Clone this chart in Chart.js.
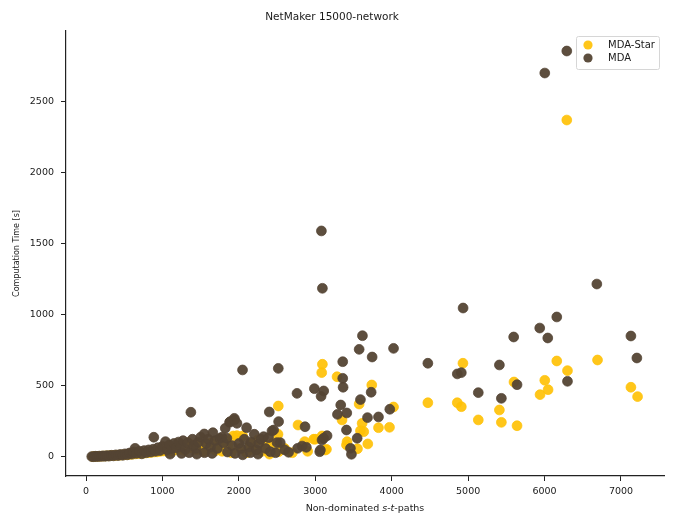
<!DOCTYPE html>
<html>
<head>
<meta charset="utf-8">
<script src="https://cdn.jsdelivr.net/npm/chart.js@4.4.1/dist/chart.umd.min.js"></script>
<style>
  body { margin: 0; background: #fff; }
  #wrap { width: 676px; height: 529px; }
</style>
</head>
<body>
<div id="wrap"><canvas id="chart"></canvas></div>
<script>
// Non-dominated s-t-paths vs. computation time [s]
const starPaths = [90,130,170,210,250,290,330,370,410,450,490,530,570,610,650,690,730,770,810,850,890,930,970,1010,1050,1090,1130,1170,1210,1250,1290,1340,1370,1410,1450,1500,1540,1580,1620,1660,1700,1740,1780,1820,1860,1900,1927,1975,2000,2050,2100,2150,2200,2250,2300,2350,2400,2450,2512,2516,2520,2600,2700,2774,2861,2900,2979,3001,3088,3093,3084,3132,3146,3285,3350,3408,3416,3552,3574,3591,3613,3634,3687,3739,3827,3971,4024,4473,4858,4911,4932,5133,5409,5435,5600,5640,5941,6003,6046,6160,6291,6300,6693,7130,7217];
const starTimes = [2,4,5,6,7,8,10,10,12,13,15,16,18,20,22,24,25,28,30,32,35,36,40,42,45,48,40,55,50,60,45,100,65,75,50,85,40,95,60,105,45,75,40,115,85,30,148,150,60,148,30,95,50,120,40,85,20,100,160,359,37,60,30,225,108,40,125,125,148,653,594,49,54,565,261,85,108,58,373,185,237,178,92,507,206,209,352,382,382,354,660,261,331,244,528,220,439,540,474,676,2373,608,683,491,425];

const mdaPaths = [75,100,125,150,175,200,225,250,275,300,330,360,390,420,450,480,510,540,570,600,620,642,660,700,730,760,790,820,850,880,887,910,940,970,1000,1040,1060,1090,1100,1120,1150,1180,1210,1240,1250,1270,1300,1330,1350,1372,1393,1410,1440,1450,1470,1500,1547,1550,1570,1600,1630,1650,1660,1690,1720,1750,1778,1800,1822,1843,1850,1878,1887,1910,1940,1944,1950,1975,2000,2030,2048,2050,2070,2101,2130,2150,2160,2202,2230,2250,2260,2290,2324,2350,2389,2398,2411,2433,2455,2480,2499,2516,2520,2542,2600,2651,2761,2769,2827,2866,2883,2988,3058,3067,3076,3080,3088,3093,3110,3110,3154,3290,3333,3359,3359,3364,3408,3412,3460,3473,3548,3574,3591,3617,3683,3731,3744,3827,3975,4024,4473,4858,4911,4934,5133,5409,5435,5596,5640,5937,6003,6042,6160,6291,6300,6684,7130,7208];
const mdaTimes = [3,2,5,3,6,4,8,5,10,6,12,8,15,10,18,12,22,15,28,20,35,61,25,40,22,45,30,50,35,55,139,40,65,45,75,108,50,85,20,60,95,65,105,75,25,115,55,100,30,315,125,80,60,20,105,140,162,30,95,125,70,25,171,115,60,130,139,100,202,132,35,244,249,80,272,261,25,237,95,60,613,15,125,206,70,30,105,160,50,20,95,125,143,60,136,317,37,183,190,30,101,624,249,101,50,33,448,61,77,213,68,481,37,49,427,1592,120,1188,465,132,150,300,366,671,554,491,190,310,61,19,132,758,404,854,277,456,704,282,336,765,660,585,594,1049,453,648,413,845,509,908,2704,838,986,2859,533,1218,852,697];

const seriesNames = ['MDA-Star', 'MDA'];
const seriesColors = ['rgba(255, 193, 7, 0.92)', 'rgba(84, 68, 52, 0.95)'];
const xTicks = [0, 1000, 2000, 3000, 4000, 5000, 6000, 7000];
const yTicks = [0, 500, 1000, 1500, 2000, 2500];

const toPoints = (xs, ys) => xs.map((x, i) => ({ x: x, y: ys[i] }));

// small canvases so the legend dot sits left of a wider gap before the text
function legendDot(color) {
  const c = document.createElement('canvas');
  c.width = 20; c.height = 10;
  const g = c.getContext('2d');
  g.fillStyle = color;
  g.beginPath();
  g.arc(5, 5, 4.6, 0, Math.PI * 2);
  g.fill();
  return c;
}
const legendDots = seriesColors.map(legendDot);

// move the legend to the top right corner of the plot and give it a frame
const legendFrame = {
  id: 'legendFrame',
  afterLayout(chart) {
    const lg = chart.legend;
    const w = lg.width, h = lg.height;
    lg.left = chart.chartArea.right - 84;
    lg.top = chart.chartArea.top + 6;
    lg.right = lg.left + w;
    lg.bottom = lg.top + h;
  },
  beforeDraw(chart) {
    const lg = chart.legend;
    const ctx = chart.ctx;
    const x = lg.left - 4, y = lg.top - 1;
    const w = chart.chartArea.right - 5 - x, h = 33;
    ctx.save();
    ctx.fillStyle = 'rgba(255,255,255,0.8)';
    ctx.strokeStyle = '#d6d6d6';
    ctx.lineWidth = 1;
    ctx.beginPath();
    ctx.roundRect(x + 0.5, y + 0.5, w, h, 2);
    ctx.fill();
    ctx.stroke();
    ctx.restore();
  }
};

// x axis title with italic s and t
const xTitleParts = [['Non-dominated ', 'normal'], ['s', 'italic'], ['-', 'normal'], ['t', 'italic'], ['-paths', 'normal']];
const xTitle = {
  id: 'xTitle',
  afterDraw(chart) {
    const ctx = chart.ctx;
    const fam = '"DejaVu Sans", sans-serif';
    ctx.save();
    ctx.fillStyle = '#1a1a1a';
    ctx.textBaseline = 'middle';
    let total = 0;
    xTitleParts.forEach(([t, s]) => { ctx.font = s + ' 9.5px ' + fam; total += ctx.measureText(t).width; });
    let x = (chart.chartArea.left + chart.chartArea.right) / 2 - total / 2;
    const y = chart.chartArea.bottom + 33;
    xTitleParts.forEach(([t, s]) => {
      ctx.font = s + ' 9.5px ' + fam;
      ctx.fillText(t, x, y);
      x += ctx.measureText(t).width;
    });
    ctx.restore();
  }
};

Chart.defaults.font.family = '"DejaVu Sans", sans-serif';
Chart.defaults.color = '#1a1a1a';

new Chart(document.getElementById('chart'), {
  type: 'scatter',
  data: {
    datasets: [
      {
        label: seriesNames[0],
        data: toPoints(starPaths, starTimes),
        backgroundColor: seriesColors[0],
        borderColor: seriesColors[0],
        borderWidth: 0.8,
        pointRadius: 4.9,
        pointHoverRadius: 4.9,
        order: 1
      },
      {
        label: seriesNames[1],
        data: toPoints(mdaPaths, mdaTimes),
        backgroundColor: seriesColors[1],
        borderColor: seriesColors[1],
        borderWidth: 0.8,
        pointRadius: 4.9,
        pointHoverRadius: 4.9,
        order: 0
      }
    ]
  },
  options: {
    responsive: true,
    maintainAspectRatio: false,
    animation: false,
    layout: { padding: { left: 0, right: 12, top: 0, bottom: 0 } },
    plugins: {
      title: {
        display: true,
        text: 'NetMaker 15000-network',
        font: { size: 10.5, weight: 'normal' },
        padding: { top: 10.7, bottom: 7.7 }
      },
      legend: {
        position: 'chartArea',
        align: 'start',
        labels: {
          usePointStyle: true,
          pointStyleWidth: 20,
          boxHeight: 10,
          padding: 3,
          font: { size: 10 },
          generateLabels(chart) {
            const items = Chart.defaults.plugins.legend.labels.generateLabels(chart);
            items.forEach((it) => { it.pointStyle = legendDots[it.datasetIndex]; });
            return items;
          },
          sort: (a, b) => a.datasetIndex - b.datasetIndex
        }
      },
      tooltip: { enabled: false }
    },
    scales: {
      x: {
        type: 'linear',
        min: -262,
        max: 7563,
        afterBuildTicks: (s) => { s.ticks = xTicks.map(v => ({ value: v })); },
        afterFit: (s) => { s.height = 53; },
        ticks: { font: { size: 9.5 }, padding: 5, maxRotation: 0, callback: v => String(v) },
        grid: { drawOnChartArea: false, drawTicks: true, tickLength: 5, tickColor: '#222', tickWidth: 1 },
        border: { display: true, color: '#222', width: 1.2 }
      },
      y: {
        min: -134,
        max: 3000,
        afterBuildTicks: (s) => { s.ticks = yTicks.map(v => ({ value: v })); },
        afterFit: (s) => { s.width = 66; },
        ticks: { font: { size: 9.5 }, padding: 7, callback: v => String(v) },
        grid: { drawOnChartArea: false, drawTicks: true, tickLength: 5, tickColor: '#222', tickWidth: 1 },
        border: { display: true, color: '#222', width: 1.2 },
        title: {
          display: true,
          text: 'Computation Time [s]',
          font: { size: 8 },
          padding: { top: 12, bottom: 0 }
        }
      }
    }
  },
  plugins: [legendFrame, xTitle]
});
</script>
</body>
</html>
